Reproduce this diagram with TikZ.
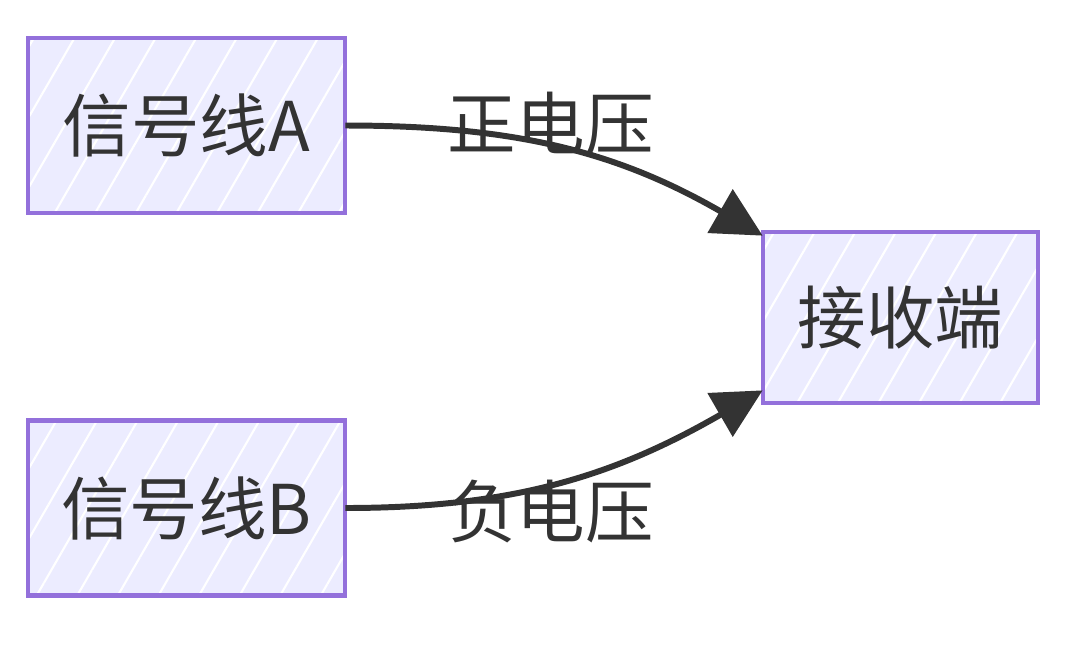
\documentclass[tikz,border=0pt]{standalone}
\usepackage{fontspec}
\setmainfont{Noto Sans CJK SC}
\usetikzlibrary{positioning,arrows.meta,patterns.meta}
\definecolor{boxfill}{HTML}{ECECFF}
\definecolor{boxline}{HTML}{9370DB}
\definecolor{ink}{HTML}{333333}

\begin{document}
\begin{tikzpicture}[>={Triangle[length=28pt,width=28pt]},
	box/.style={fill=boxfill, minimum height=3.5cm, inner sep=0pt,
		text=ink, font=\fontsize{39}{47}\selectfont,
		postaction={pattern={Lines[angle=60,distance=20pt,line width=1.2pt]}, pattern color=white},
		postaction={draw=boxline, line width=2.5pt}},
	lbl/.style={text=ink, font=\fontsize{39}{47}\selectfont}]
	\useasboundingbox (0,0) rectangle (21.44,-13.18);

	\node[box, minimum width=6.34cm] (SA) at (3.73,-2.51) {信号线A};
	\node[box, minimum width=6.34cm] (SB) at (3.73,-10.16) {信号线B};
	\node[box, minimum width=5.5cm, minimum height=3.42cm] (RX) at (18.01,-6.35) {接收端};

	\draw[ink, line width=3.4pt, ->] (SA.east) to[out=0,in=150]
		node[lbl, pos=0.47, yshift=0.44cm]{正电压} ([yshift=-0.08cm]RX.north west);
	\draw[ink, line width=3.4pt, ->] (SB.east) to[out=0,in=210]
		node[lbl, pos=0.47, yshift=-0.54cm]{负电压} ([yshift=0.26cm]RX.south west);
\end{tikzpicture}
\end{document}
